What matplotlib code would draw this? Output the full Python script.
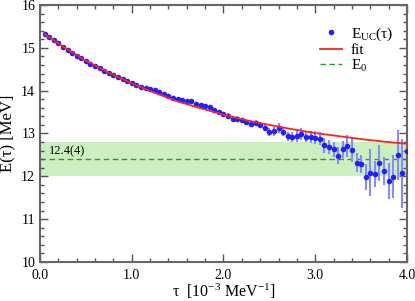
import numpy as np
import matplotlib
matplotlib.use("Agg")
import matplotlib.pyplot as plt
from matplotlib.ticker import MultipleLocator

plt.rcParams['font.family'] = ['Liberation Serif', 'DejaVu Serif']
plt.rcParams['mathtext.fontset'] = 'custom'
plt.rcParams['mathtext.rm'] = 'Liberation Serif'
plt.rcParams['mathtext.it'] = 'Liberation Serif:italic'

# Euclidean-time energy E_UC(tau), tau in 10^-3 MeV^-1
tau = [0.05, 0.10, 0.15, 0.20, 0.25, 0.30, 0.35, 0.40, 0.45, 0.50,
       0.55, 0.60, 0.65, 0.70, 0.75, 0.80, 0.85, 0.90, 0.95, 1.00,
       1.05, 1.10, 1.15, 1.20, 1.25, 1.30, 1.35, 1.40, 1.45, 1.50,
       1.55, 1.60, 1.65, 1.70, 1.75, 1.80, 1.85, 1.90, 1.95, 2.00,
       2.05, 2.10, 2.15, 2.20, 2.25, 2.30, 2.35, 2.40, 2.45, 2.50,
       2.55, 2.60, 2.65, 2.70, 2.75, 2.80, 2.85, 2.90, 2.95, 3.00,
       3.05, 3.10, 3.15, 3.20, 3.25, 3.30, 3.35, 3.40, 3.45, 3.50,
       3.55, 3.60, 3.65, 3.70, 3.75, 3.80, 3.85, 3.90, 3.95, 4.00]
energy = [15.33, 15.25, 15.18, 15.11, 15.03, 14.96, 14.89, 14.82, 14.76, 14.69,
          14.63, 14.58, 14.52, 14.47, 14.42, 14.37, 14.32, 14.27, 14.22, 14.18,
          14.14, 14.09, 14.06, 14.04, 14.01, 13.98, 13.93, 13.88, 13.83, 13.80,
          13.78, 13.76, 13.76, 13.70, 13.67, 13.65, 13.62, 13.56, 13.51, 13.46,
          13.42, 13.35, 13.34, 13.31, 13.26, 13.23, 13.24, 13.20, 13.13, 13.03,
          13.05, 13.13, 13.03, 12.93, 12.92, 12.93, 12.99, 12.92, 12.91, 12.90,
          12.88, 12.72, 12.68, 12.63, 12.48, 12.63, 12.71, 12.61, 12.32, 12.28,
          11.99, 12.08, 12.05, 12.30, 12.12, 11.90, 11.99, 12.50, 12.07, 12.59]
err = [0.01, 0.01, 0.01, 0.01, 0.01, 0.01, 0.01, 0.01, 0.01, 0.01,
       0.01, 0.01, 0.01, 0.01, 0.01, 0.02, 0.02, 0.02, 0.02, 0.02,
       0.02, 0.02, 0.02, 0.02, 0.02, 0.02, 0.03, 0.03, 0.03, 0.03,
       0.03, 0.03, 0.03, 0.04, 0.04, 0.04, 0.04, 0.04, 0.05, 0.05,
       0.05, 0.05, 0.06, 0.06, 0.06, 0.07, 0.07, 0.08, 0.08, 0.10,
       0.10, 0.12, 0.10, 0.11, 0.11, 0.12, 0.14, 0.13, 0.14, 0.15,
       0.16, 0.18, 0.17, 0.18, 0.20, 0.20, 0.26, 0.28, 0.22, 0.21,
       0.30, 0.55, 0.30, 0.42, 0.33, 0.42, 0.50, 0.58, 0.80, 0.50]

# fit curve
tau_fit = [0.05, 0.25, 0.5, 0.75, 1.0, 1.25, 1.5, 1.75, 2.0,
           2.25, 2.5, 2.75, 3.0, 3.25, 3.5, 3.75, 4.0]
e_fit = [15.32, 15.03, 14.70, 14.42, 14.17, 13.95, 13.75, 13.59, 13.44,
         13.31, 13.20, 13.10, 13.01, 12.94, 12.87, 12.81, 12.76]

# plateau estimate 12.4(4)
e0 = 12.4
e0_err = 0.4

fig = plt.figure(figsize=(4.15, 3.01), dpi=100)
ax = fig.add_axes([0.0964, 0.1296, 0.8843, 0.8538])

ax.axhspan(e0 - e0_err, e0 + e0_err, color='#ccefc0', lw=0, zorder=0)
ax.axhline(e0, color='#2e9a2e', ls=(0, (4, 2.5)), lw=1.0, zorder=1)

ax.errorbar(tau, energy, yerr=err, fmt='none', ecolor='#8a8aff', elinewidth=1.5, zorder=2)
ax.plot(tau, energy, 'o', color='#2020ff', ms=4, mew=0, zorder=3, label=r'E$_{\rm UC}$(τ)')
ax.plot(tau_fit, e_fit, '-', color='#ff2020', lw=1.3, zorder=4, label='fit')
ax.plot([], [], color='#2e9a2e', ls=(0, (4, 2.5)), lw=1.0, label=r'E$_0$')

ax.text(0.1, e0 + 0.05, '12.4(4)', fontsize=9, va='bottom', ha='left')

ax.set_xlim(0, 4.0)
ax.set_ylim(10, 16)
ax.xaxis.set_major_locator(MultipleLocator(1.0))
ax.xaxis.set_minor_locator(MultipleLocator(0.2))
ax.yaxis.set_major_locator(MultipleLocator(1.0))
ax.yaxis.set_minor_locator(MultipleLocator(0.2))
ax.xaxis.set_major_formatter(plt.FormatStrFormatter('%.1f'))
ax.tick_params(which='both', direction='in', top=True, right=True, color='#555555', labelsize=10)
ax.tick_params(which='major', length=6, width=1.0)
ax.tick_params(which='minor', length=3, width=1.0)
ax.tick_params(axis='x', pad=5)
for sp in ax.spines.values():
    sp.set_color('#666666')
    sp.set_linewidth(1.5)

ax.set_xlabel(r'τ  [10$^{-3}$ MeV$^{-1}$]', fontsize=11.5, labelpad=0)
ax.set_ylabel('E(τ) [MeV]', fontsize=12, labelpad=4)

ax.legend(loc='upper right', bbox_to_anchor=(1.0, 0.975), frameon=False, fontsize=11,
          handlelength=1.4, handletextpad=0.6, labelspacing=0.05)

fig.savefig('out.png', dpi=100)
